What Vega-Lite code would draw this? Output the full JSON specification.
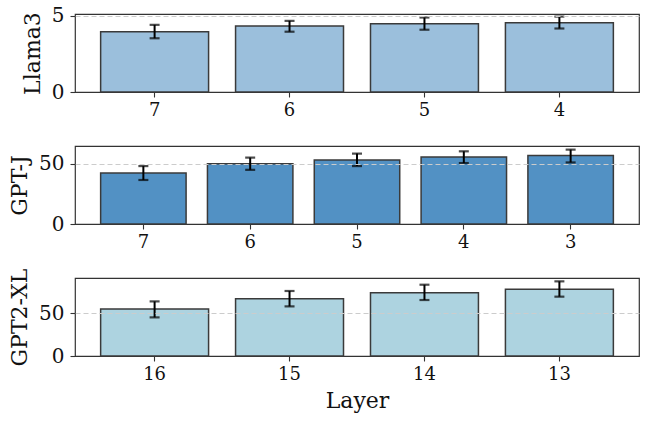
{
  "$schema": "https://vega.github.io/schema/vega-lite/v6.json",
  "background": "white",
  "padding": {"left": 7, "top": 5, "right": 5, "bottom": 5},
  "bounds": "flush",
  "spacing": 54,
  "config": {
    "font": "DejaVu Serif",
    "view": {"stroke": "#333333", "strokeWidth": 1.2},
    "axis": {"domain": false, "grid": false, "tickColor": "#333333", "tickSize": 5, "tickWidth": 1.1, "labelColor": "#111111", "titleColor": "#111111", "titleFontWeight": "normal", "labelFont": "DejaVu Serif", "titleFont": "DejaVu Serif"},
    "axisX": {"labelPadding": 4},
    "axisY": {"labelPadding": 6}
  },
  "datasets": {
    "d": [
      {"model": "Llama3", "layer": "7", "value": 3.95, "lo": 3.52, "hi": 4.40},
      {"model": "Llama3", "layer": "6", "value": 4.32, "lo": 3.95, "hi": 4.66},
      {"model": "Llama3", "layer": "5", "value": 4.47, "lo": 4.08, "hi": 4.88},
      {"model": "Llama3", "layer": "4", "value": 4.54, "lo": 4.16, "hi": 4.94},
      {"model": "GPT-J", "layer": "7", "value": 42.1, "lo": 36.4, "hi": 47.9},
      {"model": "GPT-J", "layer": "6", "value": 49.8, "lo": 44.8, "hi": 54.9},
      {"model": "GPT-J", "layer": "5", "value": 53.0, "lo": 47.9, "hi": 58.2},
      {"model": "GPT-J", "layer": "4", "value": 55.5, "lo": 50.4, "hi": 60.1},
      {"model": "GPT-J", "layer": "3", "value": 56.6, "lo": 50.9, "hi": 61.5},
      {"model": "GPT2-XL", "layer": "16", "value": 54.7, "lo": 44.9, "hi": 63.5},
      {"model": "GPT2-XL", "layer": "15", "value": 66.6, "lo": 57.7, "hi": 75.6},
      {"model": "GPT2-XL", "layer": "14", "value": 73.6, "lo": 65.1, "hi": 82.9},
      {"model": "GPT2-XL", "layer": "13", "value": 77.5, "lo": 69.0, "hi": 86.8}
    ]
  },
  "vconcat": [
    {
      "width": 564, "height": 78,
      "data": {"name": "d"},
      "transform": [{"filter": "datum.model === 'Llama3'"}],
      "encoding": {
        "x": {"field": "layer", "type": "nominal", "sort": ["7", "6", "5", "4"], "scale": {"paddingInner": 0.2, "paddingOuter": 0.19}, "axis": {"title": null, "labelAngle": 0, "labelFontSize": 18}}
      },
      "layer": [
        {"mark": {"type": "bar", "color": "#9bbfdc", "stroke": "#3a3a3a", "strokeWidth": 1.5},
         "encoding": {"y": {"field": "value", "type": "quantitative", "scale": {"domain": [0, 5.11], "nice": false}, "axis": {"title": "Llama3", "values": [0, 5], "grid": true, "gridDash": [5, 3], "gridColor": "#cccccc", "gridOpacity": {"condition": {"test": "datum.value === 0", "value": 0}, "value": 1}, "zindex": 1, "labelFontSize": 20, "titleFontSize": 22, "titlePadding": 7}}}},
        {"mark": {"type": "rule", "color": "black", "strokeWidth": 2}, "encoding": {"y": {"field": "lo", "type": "quantitative"}, "y2": {"field": "hi"}}},
        {"mark": {"type": "tick", "color": "black", "thickness": 2.2, "size": 10}, "encoding": {"y": {"field": "lo", "type": "quantitative"}}},
        {"mark": {"type": "tick", "color": "black", "thickness": 2.2, "size": 10}, "encoding": {"y": {"field": "hi", "type": "quantitative"}}}
      ]
    },
    {
      "width": 564, "height": 78,
      "data": {"name": "d"},
      "transform": [{"filter": "datum.model === 'GPT-J'"}],
      "encoding": {
        "x": {"field": "layer", "type": "nominal", "sort": ["7", "6", "5", "4", "3"], "scale": {"paddingInner": 0.2, "paddingOuter": 0.24}, "axis": {"title": null, "labelAngle": 0, "labelFontSize": 18}}
      },
      "layer": [
        {"mark": {"type": "bar", "color": "#5291c4", "stroke": "#3a3a3a", "strokeWidth": 1.5},
         "encoding": {"y": {"field": "value", "type": "quantitative", "scale": {"domain": [0, 64.5], "nice": false}, "axis": {"title": "GPT-J", "values": [0, 50], "grid": true, "gridDash": [5, 3], "gridColor": "#cccccc", "gridOpacity": {"condition": {"test": "datum.value === 0", "value": 0}, "value": 1}, "zindex": 1, "labelFontSize": 20, "titleFontSize": 22, "titlePadding": 7}}}},
        {"mark": {"type": "rule", "color": "black", "strokeWidth": 2}, "encoding": {"y": {"field": "lo", "type": "quantitative"}, "y2": {"field": "hi"}}},
        {"mark": {"type": "tick", "color": "black", "thickness": 2.2, "size": 10}, "encoding": {"y": {"field": "lo", "type": "quantitative"}}},
        {"mark": {"type": "tick", "color": "black", "thickness": 2.2, "size": 10}, "encoding": {"y": {"field": "hi", "type": "quantitative"}}}
      ]
    },
    {
      "width": 564, "height": 78,
      "data": {"name": "d"},
      "transform": [{"filter": "datum.model === 'GPT2-XL'"}],
      "encoding": {
        "x": {"field": "layer", "type": "nominal", "sort": ["16", "15", "14", "13"], "scale": {"paddingInner": 0.2, "paddingOuter": 0.19}, "axis": {"title": "Layer", "titleFontSize": 22, "titlePadding": 7, "labelAngle": 0, "labelFontSize": 18}}
      },
      "layer": [
        {"mark": {"type": "bar", "color": "#add3e0", "stroke": "#3a3a3a", "strokeWidth": 1.5},
         "encoding": {"y": {"field": "value", "type": "quantitative", "scale": {"domain": [0, 90.7], "nice": false}, "axis": {"title": "GPT2-XL", "values": [0, 50], "grid": true, "gridDash": [5, 3], "gridColor": "#cccccc", "gridOpacity": {"condition": {"test": "datum.value === 0", "value": 0}, "value": 1}, "zindex": 1, "labelFontSize": 20, "titleFontSize": 22, "titlePadding": 7}}}},
        {"mark": {"type": "rule", "color": "black", "strokeWidth": 2}, "encoding": {"y": {"field": "lo", "type": "quantitative"}, "y2": {"field": "hi"}}},
        {"mark": {"type": "tick", "color": "black", "thickness": 2.2, "size": 10}, "encoding": {"y": {"field": "lo", "type": "quantitative"}}},
        {"mark": {"type": "tick", "color": "black", "thickness": 2.2, "size": 10}, "encoding": {"y": {"field": "hi", "type": "quantitative"}}}
      ]
    }
  ]
}
